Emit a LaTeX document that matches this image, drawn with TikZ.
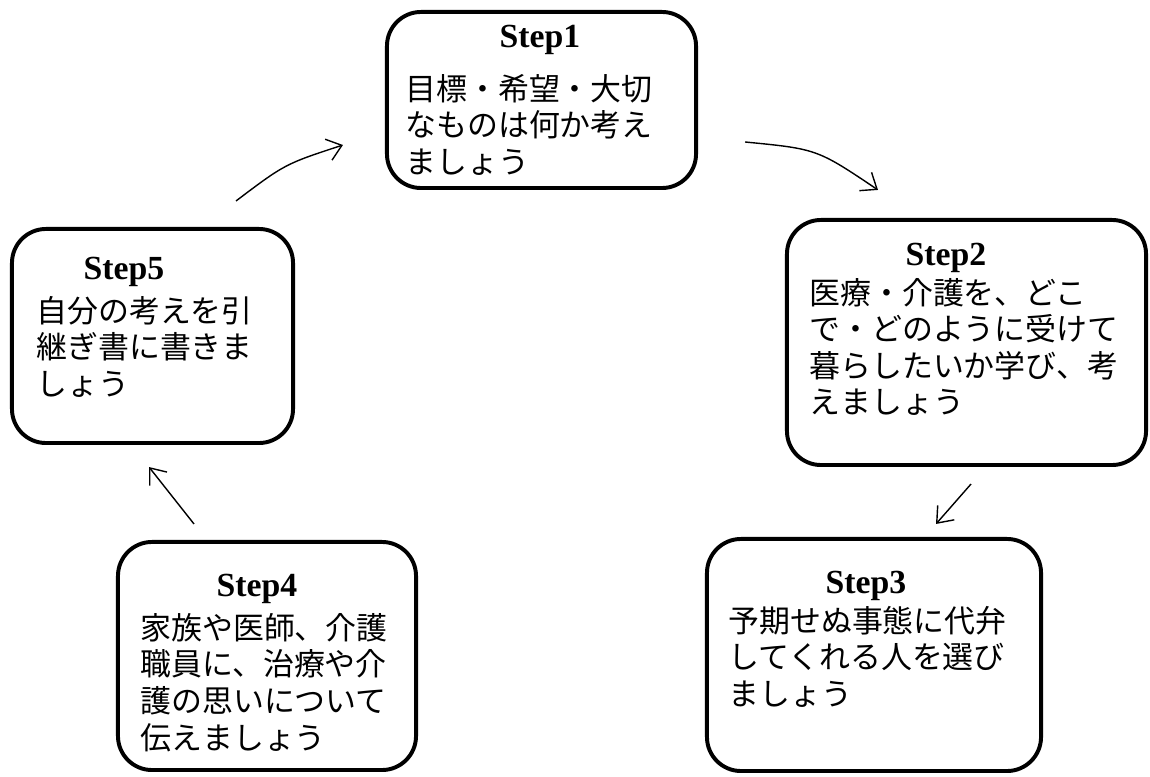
\documentclass[tikz,border=0pt]{standalone}
\usepackage{fontspec}
\usepackage{tikz}
\newfontfamily\jpfont{Noto Sans CJK JP}
\newfontfamily\titlefont{Liberation Serif}
\usetikzlibrary{arrows.meta}
\tikzstyle{stepbox}=[draw=black, line width=2.8pt, rounded corners=0.85cm, inner sep=0pt, outer sep=0pt]
\tikzstyle{steptitle}=[anchor=base, inner sep=0pt, font=\fontsize{24}{28}\titlefont\bfseries]
\tikzstyle{steptext}=[anchor=north west, inner sep=0pt, align=left, font=\fontsize{22}{26}\selectfont\jpfont]
\tikzstyle{flow}=[line width=1pt, -{Straight Barb[length=3.5mm,width=5.5mm]}]

\begin{document}
\begin{tikzpicture}[x=0.025cm, y=0.025cm]
			\useasboundingbox (0,0) rectangle (1150,776);
			\node[stepbox, minimum width=7.725cm, minimum height=4.4cm] (s1) at (541.5,676) {};
			\node[stepbox, minimum width=8.975cm, minimum height=6.125cm] (s2) at (966.5,433.5) {};
			\node[stepbox, minimum width=8.35cm, minimum height=5.8cm] (s3) at (874,121) {};
			\node[stepbox, minimum width=7.45cm, minimum height=5.7cm] (s4) at (267,120) {};
			\node[stepbox, minimum width=7.025cm, minimum height=5.35cm] (s5) at (152.5,440) {};
			\node[steptitle] (t1) at (540,728) {Step1};
			\node[steptitle] (t2) at (946,510) {Step2};
			\node[steptitle] (t3) at (866,182) {Step3};
			\node[steptitle] (t4) at (257,179) {Step4};
			\node[steptitle] (t5) at (124,496) {Step5};
			\node[steptext] (b1) at (405,702) {目標・希望・大切\\なものは何か考え\\ましょう};
			\node[steptext] (b2) at (809,498) {医療・介護を、どこ\\で・どのように受けて\\暮らしたいか学び、考\\えましょう};
			\node[steptext] (b3) at (728,170) {予期せぬ事態に代弁\\してくれる人を選び\\ましょう};
			\node[steptext] (b4) at (140,163) {家族や医師、介護\\職員に、治療や介\\護の思いについて\\伝えましょう};
			\node[steptext] (b5) at (36,480) {自分の考えを引\\継ぎ書に書きま\\しょう};
			\draw[flow] ([shift={(49,-42)}]s1.east) .. controls (817,627) .. ([shift={(-88.5,30)}]s2.north);
			\draw[flow] ([shift={(4.5,-19)}]s2.south) -- ([shift={(62,15)}]s3.north);
			\draw[flow] ([shift={(-73,18)}]s4.north) -- ([shift={(-3.5,-24)}]s5.south);
			\draw[flow] ([shift={(83.5,28)}]s5.north) .. controls (285,612) .. ([shift={(-44,-45)}]s1.west);
		\end{tikzpicture}
\end{document}
